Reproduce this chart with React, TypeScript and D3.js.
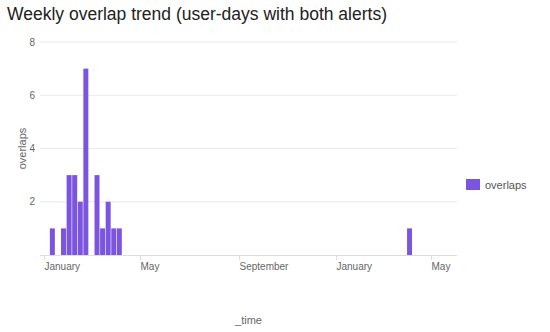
import React, { useEffect, useRef } from "react";
import * as d3 from "d3";

const weekStarts = [
  "2024-01-08", "2024-01-22", "2024-01-29", "2024-02-05", "2024-02-12", "2024-02-19",
  "2024-03-04", "2024-03-11", "2024-03-18", "2024-03-25", "2024-04-01", "2025-03-31",
];
const overlaps = [1, 1, 3, 3, 2, 7, 3, 1, 2, 1, 1, 1];
const yTicks = [2, 4, 6, 8];
const domainStart = "2023-12-27";
const domainEnd = "2025-06-02";

const W = 550;
const H = 332;
const margin = { left: 40, right: 93, top: 42, bottom: 77 };
const FONT = "'Liberation Sans', Arial, Helvetica, sans-serif";
const BAR = "#7b54e0";

export default function App() {
  const svgRef = useRef<SVGSVGElement>(null);

  useEffect(() => {
    const svg = d3.select(svgRef.current);
    svg.selectAll("*").remove();

    const innerW = W - margin.left - margin.right;
    const innerH = H - margin.top - margin.bottom;

    const parse = d3.utcParse("%Y-%m-%d");
    const data = weekStarts.map((d, i) => ({ date: parse(d)!, value: overlaps[i] }));

    const x = d3.scaleUtc()
      .domain([parse(domainStart)!, parse(domainEnd)!])
      .range([0, innerW]);
    const y = d3.scaleLinear().domain([0, 8]).range([innerH, 0]);

    svg.append("text")
      .attr("x", 7)
      .attr("y", 20)
      .attr("font-family", FONT)
      .attr("font-size", 17.5)
      .attr("fill", "#222")
      .text("Weekly overlap trend (user-days with both alerts)");

    const g = svg.append("g").attr("transform", `translate(${margin.left},${margin.top})`);

    // grid
    g.selectAll(".grid")
      .data(yTicks)
      .enter()
      .append("line")
      .attr("x1", 0)
      .attr("x2", innerW)
      .attr("y1", d => y(d))
      .attr("y2", d => y(d))
      .attr("stroke", "#e8e8e8")
      .attr("stroke-width", 1);

    g.selectAll(".ylab")
      .data(yTicks)
      .enter()
      .append("text")
      .attr("x", -5)
      .attr("y", d => y(d))
      .attr("dy", "0.35em")
      .attr("text-anchor", "end")
      .attr("font-family", FONT)
      .attr("font-size", 10)
      .attr("fill", "#666")
      .text(d => d);

    // bars
    g.selectAll(".bar")
      .data(data)
      .enter()
      .append("rect")
      .attr("x", d => x(d.date) + 0.3)
      .attr("width", d => x(d3.utcDay.offset(d.date, 7)) - x(d.date) - 0.6)
      .attr("y", d => y(d.value))
      .attr("height", d => y(0) - y(d.value))
      .attr("fill", BAR);

    // x axis
    g.append("line")
      .attr("x1", 0)
      .attr("x2", innerW)
      .attr("y1", innerH + 0.5)
      .attr("y2", innerH + 0.5)
      .attr("stroke", "#ddd");

    const ticks = x.ticks(d3.utcMonth.every(4)!);
    const fmt = d3.utcFormat("%B");
    const tg = g.selectAll(".xt")
      .data(ticks)
      .enter()
      .append("g")
      .attr("transform", d => `translate(${Math.round(x(d)) + 0.5},${innerH})`);
    tg.append("line").attr("y1", 0).attr("y2", 5).attr("stroke", "#ddd");
    tg.append("text")
      .attr("x", 0)
      .attr("y", 15)
      .attr("font-family", FONT)
      .attr("font-size", 10)
      .attr("fill", "#666")
      .text(d => fmt(d));

    // axis titles
    svg.append("text")
      .attr("x", margin.left + innerW / 2)
      .attr("y", 324)
      .attr("text-anchor", "middle")
      .attr("font-family", FONT)
      .attr("font-size", 11)
      .attr("fill", "#666")
      .text("_time");

    svg.append("text")
      .attr("transform", `translate(26,${margin.top + innerH / 2}) rotate(-90)`)
      .attr("text-anchor", "middle")
      .attr("font-family", FONT)
      .attr("font-size", 11)
      .attr("fill", "#666")
      .text("overlaps");

    // legend
    const lg = svg.append("g").attr("transform", "translate(466,179)");
    lg.append("rect").attr("width", 14).attr("height", 11).attr("fill", BAR);
    lg.append("text")
      .attr("x", 19)
      .attr("y", 9.5)
      .attr("font-family", FONT)
      .attr("font-size", 11)
      .attr("fill", "#555")
      .text("overlaps");
  }, []);

  return <svg ref={svgRef} width={W} height={H} style={{ display: "block", position: "absolute", left: 0, top: 0 }} />;
}
